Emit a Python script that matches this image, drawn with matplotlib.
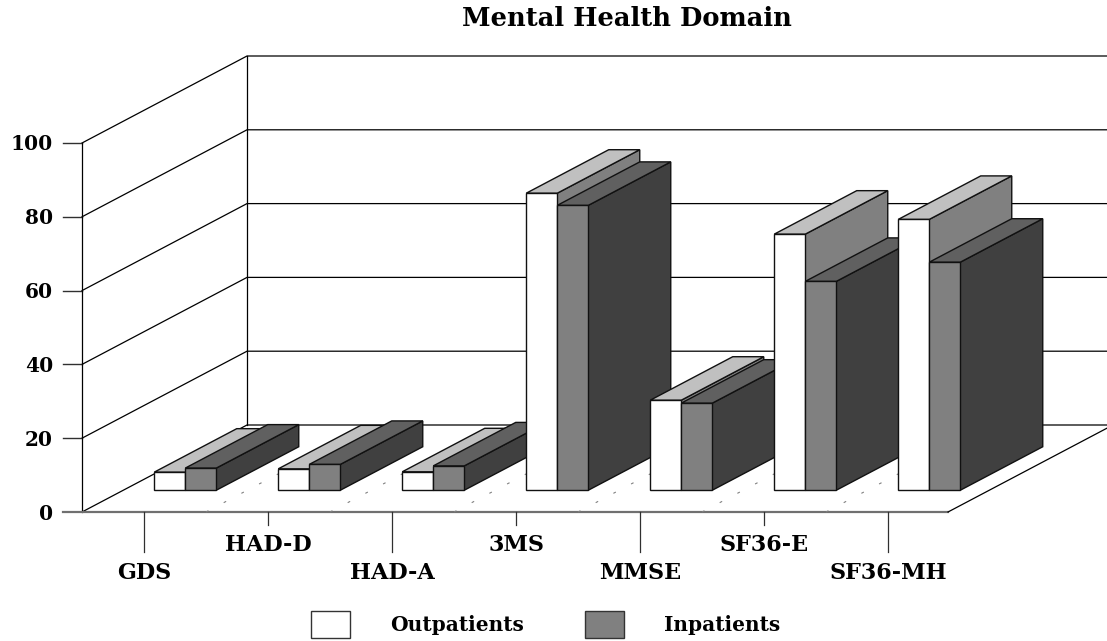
import matplotlib
matplotlib.use("Agg")
import matplotlib.pyplot as plt
from matplotlib.patches import Polygon, Rectangle

CATEGORIES = ['GDS', 'HAD-D', 'HAD-A', '3MS', 'MMSE', 'SF36-E', 'SF36-MH']
OUTPATIENTS = [4.9, 5.8, 5.0, 80.5, 24.4, 69.4, 73.4]
INPATIENTS = [6.0, 7.0, 6.6, 77.2, 23.6, 56.6, 61.8]
Y_TICKS = [0, 20, 40, 60, 80, 100]
SERIES_NAMES = ['Outpatients', 'Inpatients']

# (front, side, top) shades per series
SHADES = [('#ffffff', '#808080', '#c0c0c0'), ('#808080', '#404040', '#606060')]

# box layout in pixels
LEFT = 82
RIGHT = 948
BASE_Y = 512
UNIT = 3.69
CAT_W = 124
DEPTH_X = 165
DEPTH_Y = 87
BAR_W = 31
FONT = 'DejaVu Serif'


def project(x, depth, value=0):
    """Map floor position + value to pixels; depth runs 0 (front) to 1 (back wall)."""
    return x + depth * DEPTH_X, BASE_Y - depth * DEPTH_Y - value * UNIT


def draw_box(ax, x0, width, value, shades, z):
    """Extruded bar occupying the middle half of the floor depth."""
    d0, d1 = 0.25, 0.75
    x1 = x0 + width
    faces = [
        (shades[1], [project(x1, d0), project(x1, d1), project(x1, d1, value), project(x1, d0, value)]),
        (shades[2], [project(x0, d0, value), project(x1, d0, value), project(x1, d1, value), project(x0, d1, value)]),
        (shades[0], [project(x0, d0), project(x1, d0), project(x1, d0, value), project(x0, d0, value)]),
    ]
    for color, pts in faces:
        ax.add_patch(Polygon(pts, closed=True, facecolor=color, edgecolor='#111111',
                             linewidth=1.0, zorder=z, joinstyle='miter'))


fig = plt.figure(figsize=(11.07, 6.41), dpi=100)
ax = fig.add_axes([0, 0, 1, 1])
ax.set_xlim(0, 1107)
ax.set_ylim(641, 0)
ax.axis('off')

# walls and gridlines
for v in Y_TICKS:
    fx, fy = project(LEFT, 0, v)
    bx, by = project(LEFT, 1, v)
    ax.plot([fx, bx, 1107], [fy, by, by], color='black', lw=0.9, zorder=1)
    if v > 0:
        ax.plot([63, fx], [fy, fy], color='#303030', lw=1.0, zorder=1)
    ax.text(53, fy + 1.5, str(v), ha='right', va='center', family=FONT, fontweight='bold',
            fontsize=14.5, color='black')

ax.plot([LEFT, LEFT], [project(LEFT, 0)[1], project(LEFT, 0, 100)[1]], color='black', lw=0.9, zorder=1)
ax.plot([LEFT + DEPTH_X] * 2, [project(LEFT, 1)[1], project(LEFT, 1, 100)[1]], color='black', lw=0.9, zorder=1)

# floor edges
ax.plot([63, RIGHT], [BASE_Y, BASE_Y], color='#707070', lw=1.6, zorder=1)
ax.plot([RIGHT, project(RIGHT, 1)[0]], [BASE_Y, project(RIGHT, 1)[1]], color='black', lw=0.9, zorder=1)

# dotted floor separators between categories
for i in range(1, len(CATEGORIES)):
    x = LEFT + CAT_W * i
    ax.plot(*zip(project(x, 0), project(x, 0.5)), color='#808080', lw=0.8,
            linestyle=(0, (2.5, 15.5)), zorder=1)

# categories run left to right so nearer bars overlap correctly
for i, cat in enumerate(CATEGORIES):
    center = LEFT + 62 + CAT_W * i
    tick_end = 552 if i % 2 == 0 else 525
    ax.plot([center, center], [BASE_Y, tick_end], color='#303030', lw=0.9, zorder=1)
    label_y = 573 if i % 2 == 0 else 545
    ax.text(center, label_y, cat, ha='center', va='center', family=FONT,
            fontweight='bold', fontsize=16, color='black')
    z = 2 + i
    draw_box(ax, center - BAR_W, BAR_W, OUTPATIENTS[i], SHADES[0], z)
    draw_box(ax, center, BAR_W, INPATIENTS[i], SHADES[1], z + 0.5)

# legend
for x, name, text_x, shades in zip([311, 585], SERIES_NAMES, [390, 664], SHADES):
    ax.add_patch(Rectangle((x, 611), 39, 27, facecolor=shades[0], edgecolor='#333333', linewidth=1.0))
    ax.text(text_x, 625, name, ha='left', va='center', family=FONT, fontweight='bold',
            fontsize=14.5, color='black')

ax.text(627, 18, 'Mental Health Domain', ha='center', va='center', family=FONT,
        fontweight='bold', fontsize=18.5, color='black')

fig.savefig('out.png', dpi=100)
